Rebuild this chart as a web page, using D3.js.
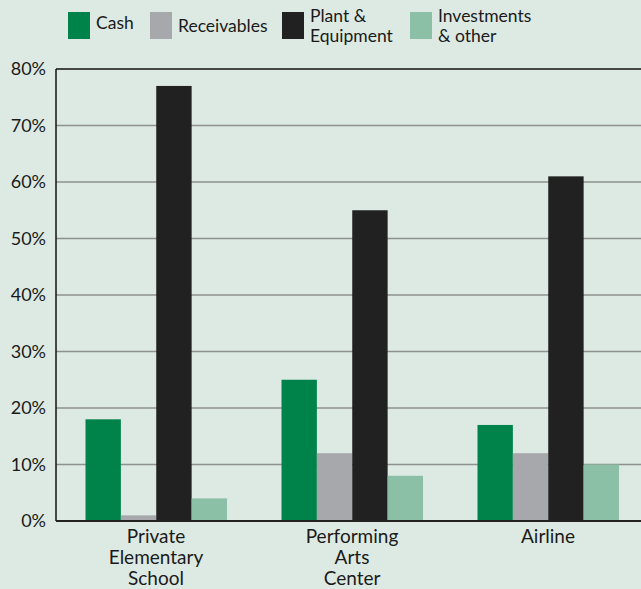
<!DOCTYPE html>
<html>
<head>
<meta charset="utf-8">
<script src="https://cdn.jsdelivr.net/npm/d3@7"></script>
<style>
  html, body { margin: 0; padding: 0; background: #ddeae3; }
  svg { display: block; font-family: Lato, "Open Sans", sans-serif; }
</style>
</head>
<body>
<svg class="graph" width="641" height="589"></svg>
<script>
var categories = [["Private", "Elementary", "School"], ["Performing", "Arts", "Center"], ["Airline"]];
var seriesNames = [["Cash"], ["Receivables"], ["Plant &", "Equipment"], ["Investments", "& other"]];
var cash = [18, 25, 17];
var receivables = [1, 12, 12];
var plant = [77, 55, 61];
var investments = [4, 8, 10];
var tickValues = [0, 10, 20, 30, 40, 50, 60, 70, 80];

var colors = ["#00834a", "#a6a8ac", "#212121", "#8bbfa6"];

var svg = d3.select("svg.graph"),
  width = +svg.attr("width"),
  height = +svg.attr("height");

svg.append("rect").attr("width", width).attr("height", height).attr("fill", "#ddeae3");

var left = 56, zeroY = 521, topY = 69;
var keys = ["cash", "receivables", "plant", "investments"];
var data = categories.map(function(c, i) {
  return { key: c.join(" "), label: c, values: [cash[i], receivables[i], plant[i], investments[i]] };
});

var x0 = d3.scaleBand()
  .domain(data.map(function(d) { return d.key; }))
  .range([58, 646]);

var x1 = d3.scaleBand()
  .domain(keys)
  .range([27.5, 169]);

var y = d3.scaleLinear()
  .domain([0, 80])
  .range([zeroY, topY]);

// grid lines
svg.append("g")
  .selectAll("line")
  .data(tickValues.filter(function(t) { return t > 0 && t < 80; }))
  .enter().append("line")
    .attr("x1", left).attr("x2", width)
    .attr("y1", function(d) { return y(d); })
    .attr("y2", function(d) { return y(d); })
    .attr("stroke", "#8e918f")
    .attr("stroke-width", 1.6);

// bars
svg.append("g")
  .selectAll("g")
  .data(data)
  .enter().append("g")
    .attr("transform", function(d) { return "translate(" + x0(d.key) + ",0)"; })
  .selectAll("rect")
  .data(function(d) { return d.values.map(function(v, j) { return { key: keys[j], value: v, i: j }; }); })
  .enter().append("rect")
    .attr("x", function(d) { return x1(d.key); })
    .attr("y", function(d) { return y(d.value); })
    .attr("width", x1.bandwidth())
    .attr("height", function(d) { return zeroY - y(d.value); })
    .attr("fill", function(d) { return colors[d.i]; });

// frame: top, left, bottom
svg.append("line").attr("x1", left).attr("x2", width).attr("y1", y(80)).attr("y2", y(80))
  .attr("stroke", "#111").attr("stroke-width", 1.5);
svg.append("line").attr("x1", left).attr("x2", left).attr("y1", y(80)).attr("y2", zeroY)
  .attr("stroke", "#111").attr("stroke-width", 1.5);
svg.append("line").attr("x1", left).attr("x2", width).attr("y1", zeroY).attr("y2", zeroY)
  .attr("stroke", "#222").attr("stroke-width", 2);

// y tick labels
svg.append("g")
  .selectAll("text")
  .data(tickValues)
  .enter().append("text")
    .attr("x", 46)
    .attr("y", function(d) { return y(d) + 6; })
    .attr("text-anchor", "end")
    .attr("font-size", 18)
    .attr("fill", "#1a1a1a")
    .text(function(d) { return d + "%"; });

// category labels
var cat = svg.append("g")
  .selectAll("text")
  .data(data)
  .enter().append("text")
    .attr("text-anchor", "middle")
    .attr("font-size", 19)
    .attr("fill", "#1a1a1a")
    .attr("transform", function(d) { return "translate(" + (x0(d.key) + x0.bandwidth() / 2) + ",543)"; });
cat.selectAll("tspan")
  .data(function(d) { return d.label; })
  .enter().append("tspan")
    .attr("x", 0)
    .attr("y", function(d, i) { return i * 21; })
    .text(function(d) { return d; });

// legend
var legendX = [68, 150, 282, 410];
var legendBase = [17, 20, 10, 10];
var legend = svg.append("g")
  .selectAll("g")
  .data(seriesNames)
  .enter().append("g")
    .attr("transform", function(d, i) { return "translate(" + legendX[i] + ",12)"; });
legend.append("rect")
  .attr("width", 22).attr("height", 27)
  .attr("fill", function(d, i) { return colors[i]; });
var lt = legend.append("text")
  .attr("font-size", 17.5)
  .attr("fill", "#1a1a1a");
lt.selectAll("tspan")
  .data(function(d, k) { return d.map(function(s) { return { s: s, k: k }; }); })
  .enter().append("tspan")
    .attr("x", 28)
    .attr("y", function(d, i) { return legendBase[d.k] + i * 20; })
    .text(function(d) { return d.s; });
</script>
</body>
</html>
